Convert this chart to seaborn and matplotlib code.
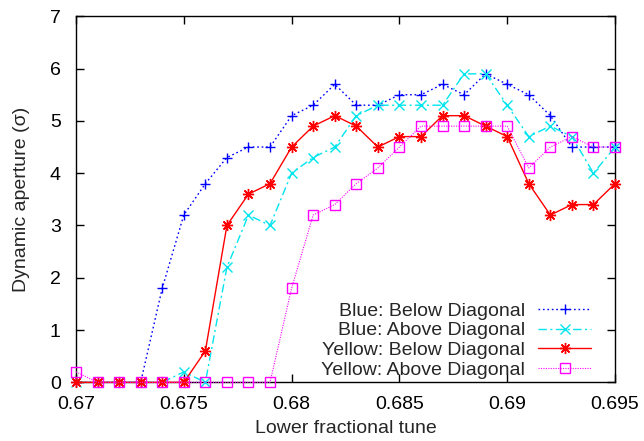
import numpy as np
import pandas as pd
import matplotlib
matplotlib.use("Agg")
import matplotlib.pyplot as plt
import seaborn as sns

tune = [0.670, 0.671, 0.672, 0.673, 0.674, 0.675, 0.676, 0.677, 0.678, 0.679,
        0.680, 0.681, 0.682, 0.683, 0.684, 0.685, 0.686, 0.687, 0.688, 0.689,
        0.690, 0.691, 0.692, 0.693, 0.694, 0.695]

blue_below = [0, 0, 0, 0, 1.8, 3.2, 3.8, 4.3, 4.5, 4.5,
              5.1, 5.3, 5.7, 5.3, 5.3, 5.5, 5.5, 5.7, 5.5, 5.9,
              5.7, 5.5, 5.1, 4.5, 4.5, 4.5]
blue_above = [0, 0, 0, 0, 0, 0.2, 0, 2.2, 3.2, 3.0,
              4.0, 4.3, 4.5, 5.1, 5.3, 5.3, 5.3, 5.3, 5.9, 5.9,
              5.3, 4.7, 4.9, 4.7, 4.0, 4.5]
yellow_below = [0, 0, 0, 0, 0, 0, 0.6, 3.0, 3.6, 3.8,
                4.5, 4.9, 5.1, 4.9, 4.5, 4.7, 4.7, 5.1, 5.1, 4.9,
                4.7, 3.8, 3.2, 3.4, 3.4, 3.8]
yellow_above = [0.2, 0, 0, 0, 0, 0, 0, 0, 0, 0,
                1.8, 3.2, 3.4, 3.8, 4.1, 4.5, 4.9, 4.9, 4.9, 4.9,
                4.9, 4.1, 4.5, 4.7, 4.5, 4.5]

labels = ["Blue: Below Diagonal", "Blue: Above Diagonal",
          "Yellow: Below Diagonal", "Yellow: Above Diagonal"]

x_ticks = [0.67, 0.675, 0.68, 0.685, 0.69, 0.695]
x_tick_labels = ["0.67", "0.675", "0.68", "0.685", "0.69", "0.695"]
y_ticks = [0, 1, 2, 3, 4, 5, 6, 7]

FS = 14

sns.set_style("ticks")
plt.rcParams['font.family'] = ['Liberation Sans', 'DejaVu Sans']
plt.rcParams['font.size'] = FS

fig = plt.figure(figsize=(6.44, 4.41), dpi=100)
ax = fig.add_axes([0.118, 0.133, 0.837, 0.830])

styles = [
    dict(color="#0000ff", markeredgecolor="#0000ff", linestyle=(0, (1.2, 2.0)),
         marker="+", markersize=7.5, markeredgewidth=1.0, lw=1.0),
    dict(color="#00e5ee", markeredgecolor="#00e5ee", linestyle=(0, (6, 2.5, 1.5, 2.5)),
         marker="x", markersize=6.5, markeredgewidth=1.0, lw=1.0),
    dict(color="#ff0000", markeredgecolor="#ff0000", linestyle="-",
         marker=(8, 2, 0), markersize=8, markeredgewidth=1.0, lw=1.0),
    dict(color="#ff00ff", markeredgecolor="#ff00ff", linestyle=(0, (1, 1.2)),
         marker="s", markersize=7, markeredgewidth=1.0, markerfacecolor="none", lw=0.8),
]
series = [blue_below, blue_above, yellow_below, yellow_above]

for vals, lab, st in zip(series, labels, styles):
    df = pd.DataFrame({"tune": tune, "da": vals})
    sns.lineplot(data=df, x="tune", y="da", ax=ax, label=lab, estimator=None,
                 sort=False, clip_on=False, **st)

ax.set_xlim(0.67, 0.695)
ax.set_ylim(0, 7)
ax.set_xticks(x_ticks)
ax.set_xticklabels(x_tick_labels)
ax.set_yticks(y_ticks)
ax.tick_params(direction="in", length=6, width=1, top=True, right=True,
               labelsize=FS, colors="black")
ax.tick_params(axis="x", pad=10)
ax.tick_params(axis="y", pad=11)
for sp in ax.spines.values():
    sp.set_visible(True)
    sp.set_color("black")
    sp.set_linewidth(1)
    sp.set_zorder(0.5)

ax.set_xlabel("Lower fractional tune", fontsize=FS, labelpad=5)
ax.set_ylabel("Dynamic aperture (\u03c3)", fontsize=FS, labelpad=14)

leg = ax.legend(loc="lower right", frameon=False, markerfirst=False,
                handlelength=2.75, handletextpad=0.65, labelspacing=0.1,
                fontsize=FS, bbox_to_anchor=(0.985, -0.032), borderpad=0.3)

fig.savefig("out.png", dpi=100)
